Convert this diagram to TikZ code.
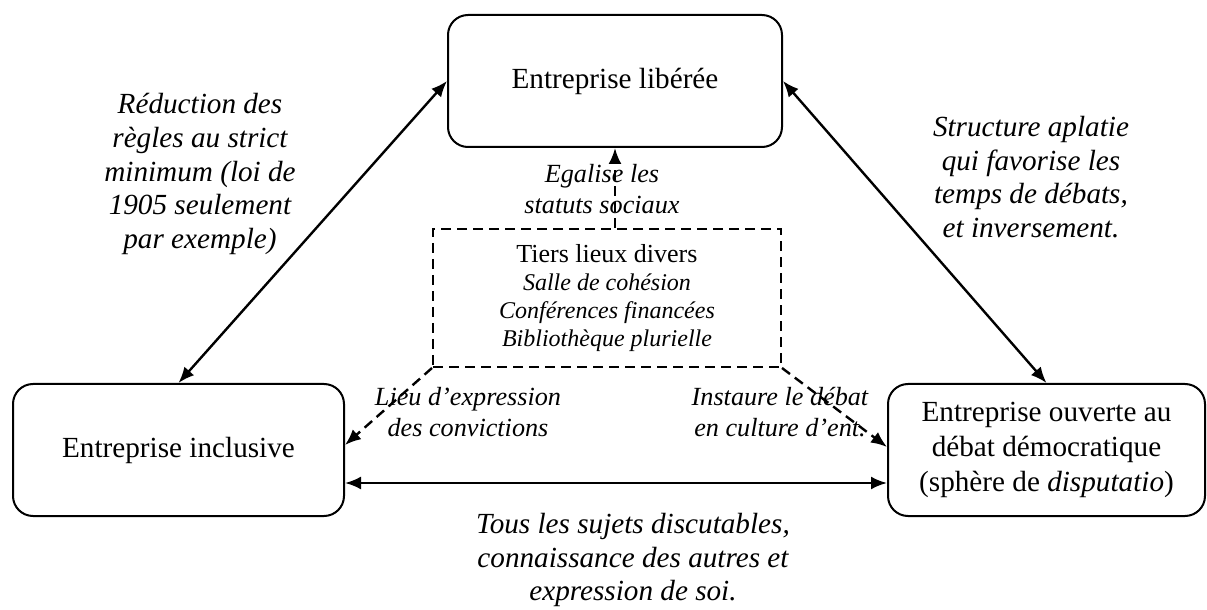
\documentclass[tikz,border=0pt]{standalone}
\usepackage{fontspec}
\setmainfont{Liberation Serif}
\usetikzlibrary{arrows.meta,positioning}

\begin{document}
\begin{tikzpicture}[x=0.5pt, y=-0.5pt, line width=1pt,
    main/.style = {draw, rounded corners=10pt, align=center, minimum height=66pt, font=\fontsize{14.6}{17.5}\selectfont},
    lab/.style = {align=center, font=\fontsize{14.6}{16.9}\selectfont\itshape},
    small/.style = {align=center, font=\fontsize{13.1}{15.5}\selectfont\itshape},
    link/.style = {{Latex[length=8pt,width=6.5pt]}-{Latex[length=8pt,width=6.5pt]}, line width=1.2pt},
    dlink/.style = {-{Latex[length=8pt,width=6.5pt]}, dash pattern=on 5pt off 3pt, line width=1.2pt}]
    \useasboundingbox (0,0) rectangle (1207,610);
    \node[main, minimum width=167pt] (lib) at (615,81) {Entreprise libérée};
    \node[main, minimum width=165.5pt] (incl) at (178.5,450) {Entreprise inclusive};
    \node[main, minimum width=158.5pt] (ouv) at (1046.5,450) {Entreprise ouverte au\\débat démocratique\\(sphère de \textit{disputatio})};
    \node[draw, dash pattern=on 5pt off 3pt, align=center, minimum width=174pt, minimum height=69pt, font=\fontsize{12}{14}\selectfont] (tiers) at (607,298) {{\fontsize{13}{14}\selectfont Tiers lieux divers}\\\textit{Salle de cohésion}\\\textit{Conférences financées}\\\textit{Bibliothèque plurielle}};
    \draw[link] (incl.north) -- (lib.west);
    \draw[link] (lib.east) -- (ouv.north);
    \draw[link] ([yshift=-16.5pt]incl.east) -- ([yshift=-16.5pt]ouv.west);
    \draw[dlink] (tiers.north -| lib.south) -- (lib.south);
    \draw[dlink] (tiers.south west) -- ([yshift=2.5pt]incl.east);
    \draw[dlink] (tiers.south east) -- ([yshift=1.5pt]ouv.west);
    \node[lab] (regles) at (200,174) {Réduction des\\règles au strict\\minimum (loi de\\1905 seulement\\par exemple)};
    \node[lab] (aplat) at (1031,177) {Structure aplatie\\qui favorise les\\temps de débats,\\et inversement.};
    \node[lab] (sujets) at (633,560) {Tous les sujets discutables,\\connaissance des autres et\\expression de soi.};
    \node[small] (egal) at (602,189) {Egalise les\\statuts sociaux};
    \node[small] (lieu) at (468,412) {Lieu d'expression\\des convictions};
    \node[small] (debat) at (780,412) {Instaure le débat\\en culture d'ent.};
\end{tikzpicture}
\end{document}
